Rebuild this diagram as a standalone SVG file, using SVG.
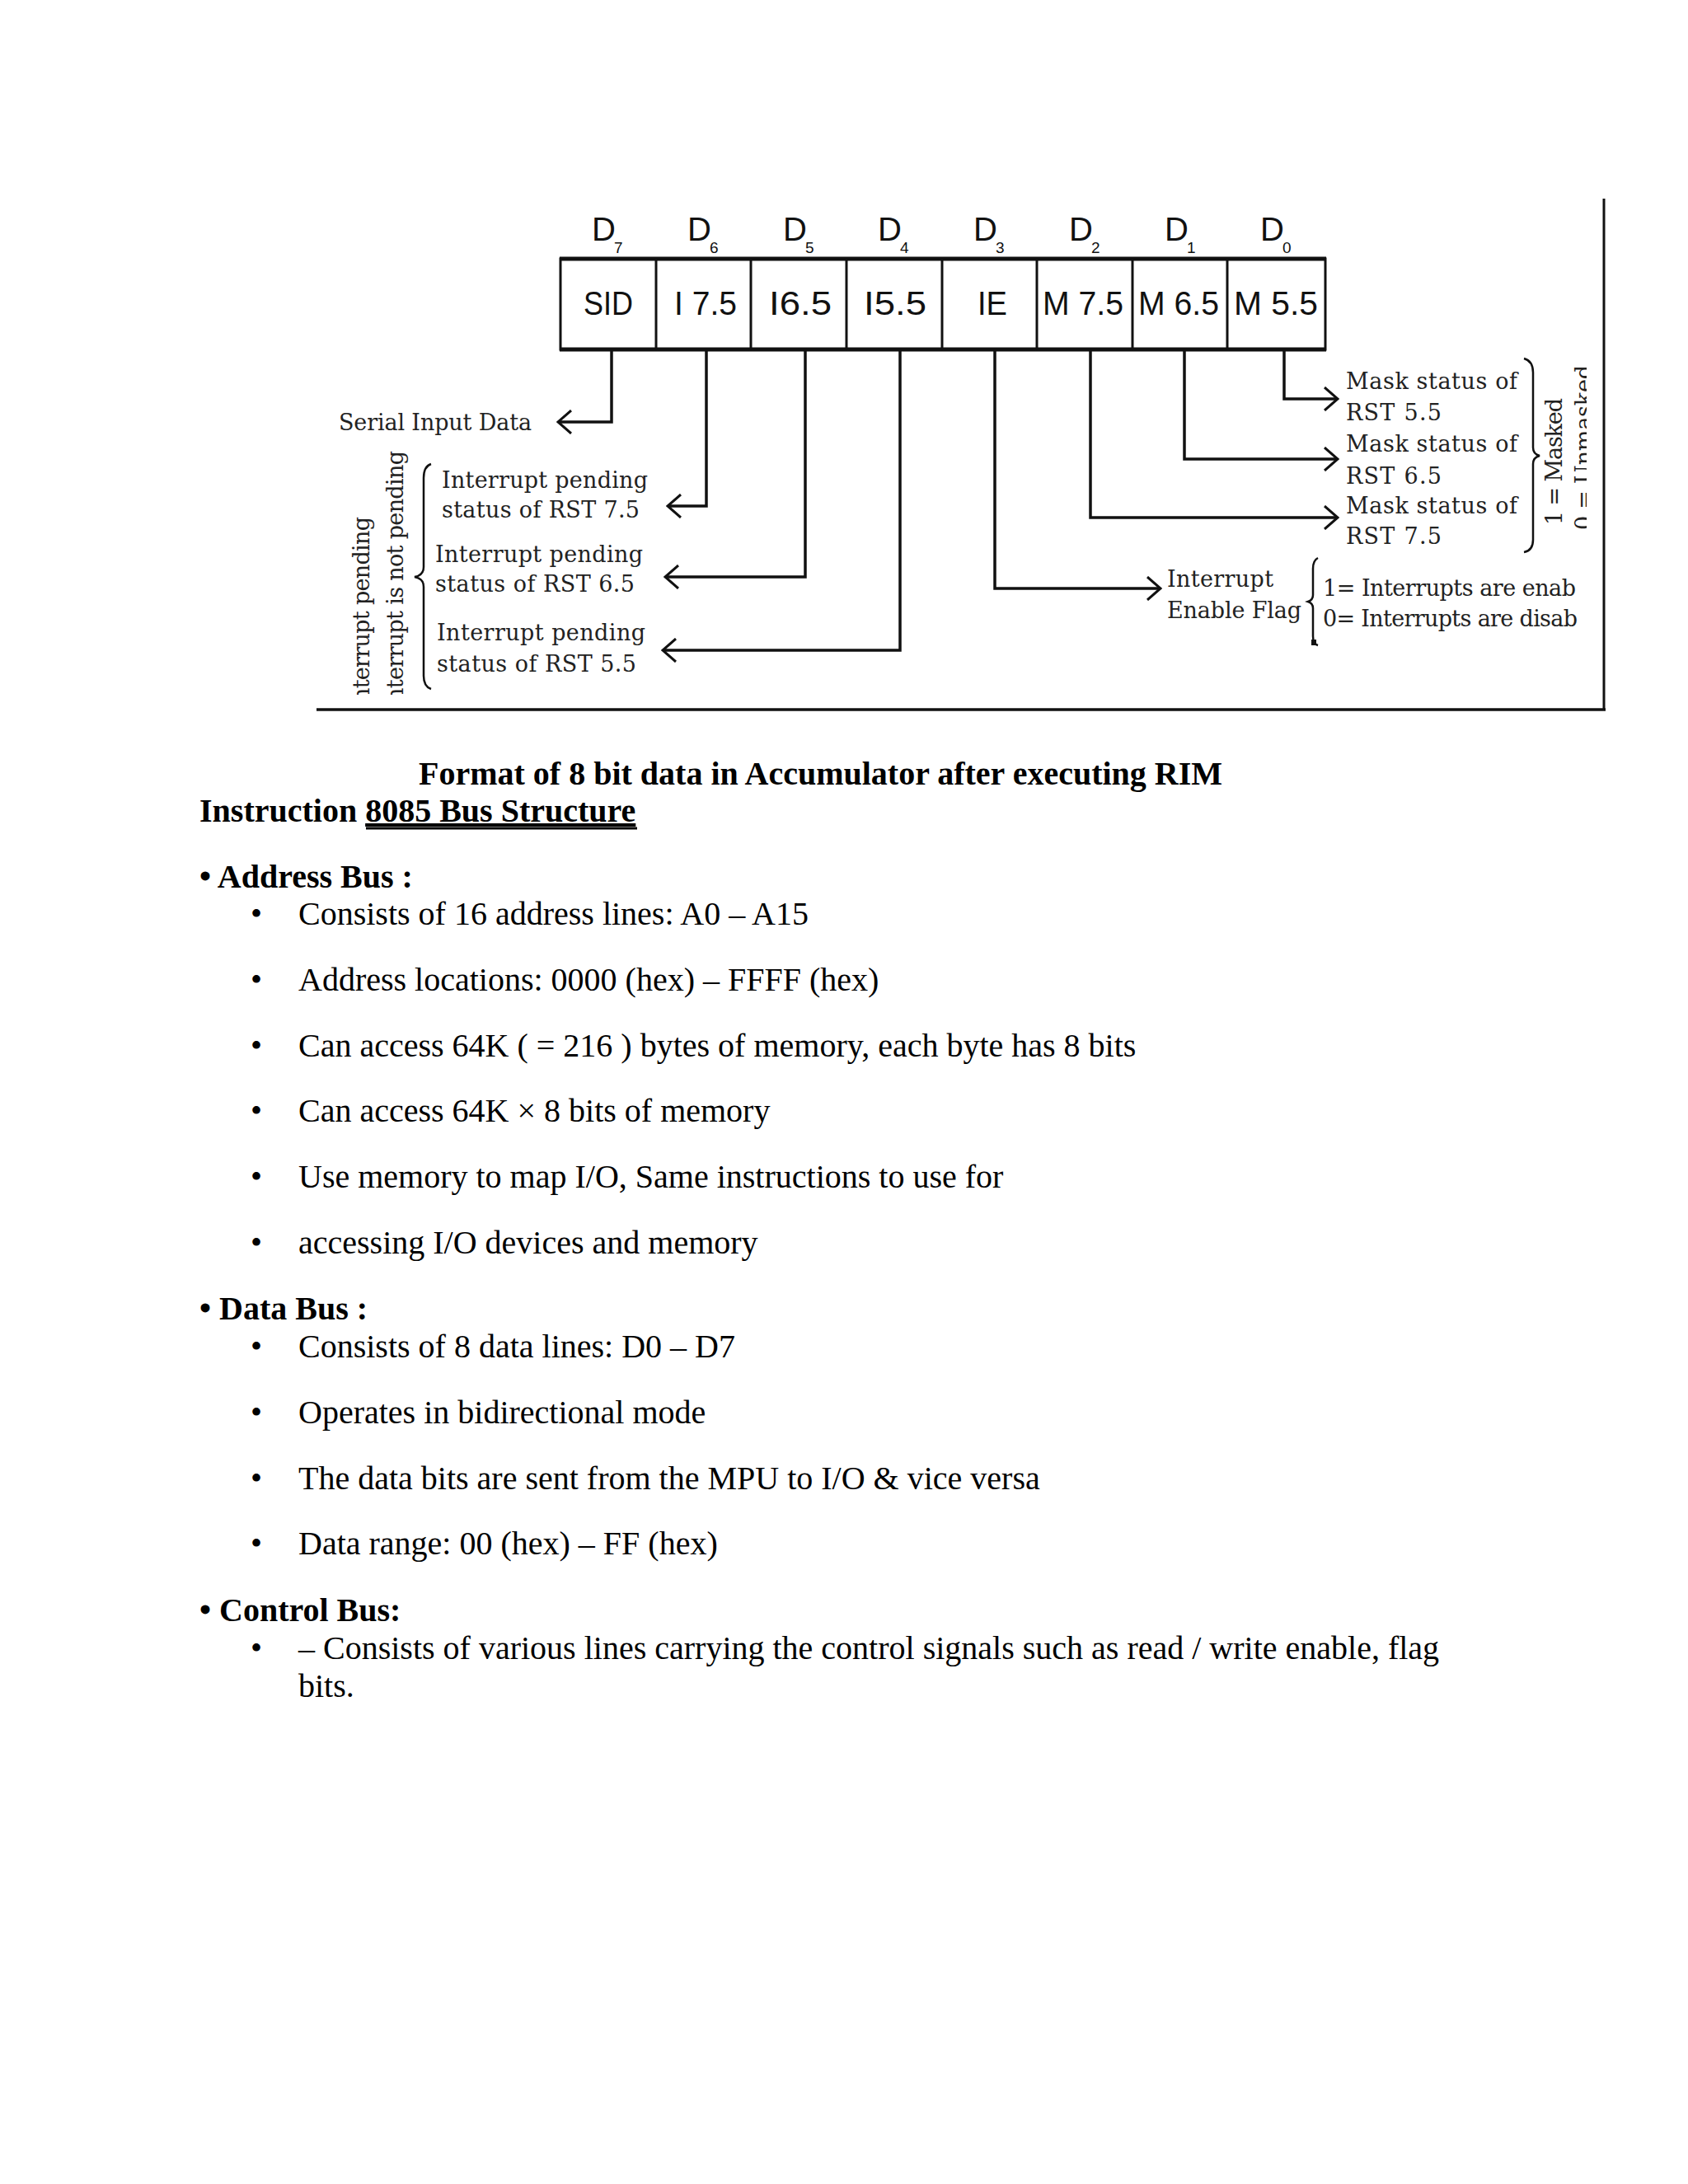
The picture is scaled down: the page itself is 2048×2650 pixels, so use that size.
<svg xmlns="http://www.w3.org/2000/svg" width="2048" height="2650" viewBox="0 0 2048 2650">
<style>
.cell{font-family:"Liberation Sans",Arial,sans-serif;font-size:40px;fill:#111;text-anchor:middle}
.dl{font-family:"Liberation Sans",Arial,sans-serif;font-size:40px;fill:#111}
.ds{font-family:"Liberation Sans",Arial,sans-serif;font-size:19px;fill:#111}
.lb{font-family:"DejaVu Serif","Liberation Serif",serif;font-size:27px;fill:#222}
.ln{fill:none;stroke:#111;stroke-width:3.5}
.br{fill:none;stroke:#111;stroke-width:2.5}
.t{font-family:"Liberation Serif","Times New Roman",serif;font-size:40px;fill:#000}
.b{font-family:"Liberation Serif","Times New Roman",serif;font-size:40px;font-weight:bold;fill:#000}
</style>
<defs>
<marker id="arr" viewBox="0 0 20 30" refX="18" refY="15" markerWidth="20" markerHeight="30" markerUnits="userSpaceOnUse" orient="auto">
<path d="M2,1 L18,15 L2,29" fill="none" stroke="#111" stroke-width="3"/>
</marker>
<clipPath id="clipL"><rect x="380" y="500" width="140" height="343"/></clipPath>
<clipPath id="clipR"><rect x="1860" y="400" width="65" height="300"/></clipPath>
</defs>
<rect width="2048" height="2650" fill="#fff"/>

<g id="frame">
<line x1="1946" y1="241" x2="1946" y2="862" stroke="#111" stroke-width="3"/>
<line x1="384" y1="861" x2="1948" y2="861" stroke="#111" stroke-width="3.5"/>
</g>

<g id="register">
<rect x="680" y="314" width="928" height="110" fill="#fff" stroke="#111" stroke-width="3"/>
<line x1="679" y1="314" x2="1609" y2="314" stroke="#111" stroke-width="5"/>
<line x1="679" y1="424" x2="1609" y2="424" stroke="#111" stroke-width="5"/>
<g stroke="#111" stroke-width="3">
<line x1="796" y1="314" x2="796" y2="424"/>
<line x1="911" y1="314" x2="911" y2="424"/>
<line x1="1027" y1="314" x2="1027" y2="424"/>
<line x1="1143" y1="314" x2="1143" y2="424"/>
<line x1="1258" y1="314" x2="1258" y2="424"/>
<line x1="1374" y1="314" x2="1374" y2="424"/>
<line x1="1489" y1="314" x2="1489" y2="424"/>
</g>
<g id="bit7"><text class="dl" x="718" y="292" textLength="29">D</text><text class="ds" x="745" y="307">7</text><text class="cell" x="738" y="382" textLength="60" lengthAdjust="spacingAndGlyphs">SID</text></g>
<g id="bit6"><text class="dl" x="834" y="292" textLength="29">D</text><text class="ds" x="861" y="307">6</text><text class="cell" x="856" y="382" textLength="76" lengthAdjust="spacingAndGlyphs">I 7.5</text></g>
<g id="bit5"><text class="dl" x="950" y="292" textLength="29">D</text><text class="ds" x="977" y="307">5</text><text class="cell" x="971" y="382" textLength="76" lengthAdjust="spacingAndGlyphs">I6.5</text></g>
<g id="bit4"><text class="dl" x="1065" y="292" textLength="29">D</text><text class="ds" x="1092" y="307">4</text><text class="cell" x="1086" y="382" textLength="76" lengthAdjust="spacingAndGlyphs">I5.5</text></g>
<g id="bit3"><text class="dl" x="1181" y="292" textLength="29">D</text><text class="ds" x="1208" y="307">3</text><text class="cell" x="1204" y="382" textLength="36" lengthAdjust="spacingAndGlyphs">IE</text></g>
<g id="bit2"><text class="dl" x="1297" y="292" textLength="29">D</text><text class="ds" x="1324" y="307">2</text><text class="cell" x="1314" y="382" textLength="98" lengthAdjust="spacingAndGlyphs">M 7.5</text></g>
<g id="bit1"><text class="dl" x="1413" y="292" textLength="29">D</text><text class="ds" x="1440" y="307">1</text><text class="cell" x="1430" y="382" textLength="98" lengthAdjust="spacingAndGlyphs">M 6.5</text></g>
<g id="bit0"><text class="dl" x="1529" y="292" textLength="29">D</text><text class="ds" x="1556" y="307">0</text><text class="cell" x="1548" y="382" textLength="102" lengthAdjust="spacingAndGlyphs">M 5.5</text></g>
</g>

<g id="connectors">
<path class="ln" d="M742,425 V512 H677" marker-end="url(#arr)"/>
<path class="ln" d="M857,425 V614 H810" marker-end="url(#arr)"/>
<path class="ln" d="M977,425 V700 H807" marker-end="url(#arr)"/>
<path class="ln" d="M1092,425 V789 H804" marker-end="url(#arr)"/>
<path class="ln" d="M1207,425 V714 H1408" marker-end="url(#arr)"/>
<path class="ln" d="M1323,425 V628 H1623" marker-end="url(#arr)"/>
<path class="ln" d="M1437,425 V557 H1623" marker-end="url(#arr)"/>
<path class="ln" d="M1558,425 V484 H1623" marker-end="url(#arr)"/>
</g>

<g id="sid-label"><text class="lb" x="411" y="522" textLength="234">Serial Input Data</text></g>

<g id="pending-labels">
<text class="lb" x="536" y="592" textLength="250">Interrupt pending</text>
<text class="lb" x="536" y="628" textLength="240">status of RST 7.5</text>
<text class="lb" x="528" y="682" textLength="252">Interrupt pending</text>
<text class="lb" x="528" y="718" textLength="242">status of RST 6.5</text>
<text class="lb" x="530" y="777" textLength="253">Interrupt pending</text>
<text class="lb" x="530" y="815" textLength="242">status of RST 5.5</text>
<path class="br" d="M523,563 Q514,566 514,580 L514,688 Q514,698 503,700 Q514,702 514,712 L514,820 Q514,833 523,836"/>
<g clip-path="url(#clipL)">
<text class="lb" transform="translate(448,852) rotate(-90)" x="0" y="0" textLength="225" font-size="28">nterrupt pending</text>
<text class="lb" transform="translate(489,852) rotate(-90)" x="0" y="0" textLength="305" font-size="28">nterrupt is not pending</text>
</g>
</g>

<g id="mask-labels">
<text class="lb" x="1633" y="472" textLength="208">Mask status of</text>
<text class="lb" x="1633" y="510" textLength="116">RST 5.5</text>
<text class="lb" x="1633" y="548" textLength="208">Mask status of</text>
<text class="lb" x="1633" y="587" textLength="116">RST 6.5</text>
<text class="lb" x="1633" y="623" textLength="208">Mask status of</text>
<text class="lb" x="1633" y="660" textLength="116">RST 7.5</text>
<path class="br" d="M1849,435 Q1860,438 1860,452 L1860,543 Q1860,551 1868,553 Q1860,555 1860,563 L1860,655 Q1860,668 1849,670"/>
<text class="lb" transform="translate(1895,637) rotate(-90)" x="0" y="0" textLength="154" font-size="29">1 = Masked</text>
<g clip-path="url(#clipR)">
<text class="lb" transform="translate(1931,643) rotate(-90)" x="0" y="0" textLength="200" font-size="29">0 = Unmasked</text>
</g>
</g>

<g id="ie-labels">
<text class="lb" x="1416" y="712" textLength="129">Interrupt</text>
<text class="lb" x="1416" y="750" textLength="163">Enable Flag</text>
<path class="br" d="M1599,677 Q1593,680 1593,690 L1593,722 Q1593,728 1587,730 Q1593,732 1593,738 L1593,772 Q1593,781 1599,783"/>
<rect x="1591" y="776" width="6" height="7" fill="#111"/>
<text class="lb" x="1605" y="723" textLength="307">1= Interrupts are enab</text>
<text class="lb" x="1605" y="760" textLength="309">0= Interrupts are disab</text>
</g>

<g id="caption">
<text class="b" x="508" y="952">Format of 8 bit data in Accumulator after executing RIM</text>
<text class="b" x="242" y="997">Instruction <tspan text-decoration="underline">8085 Bus Structure</tspan></text>
<line x1="444" y1="1005" x2="773" y2="1005" stroke="#000" stroke-width="3"/>
</g>

<g id="address-bus">
<text class="b" x="242" y="1077">• Address Bus :</text>
<g class="t">
<text x="304" y="1122">•</text><text x="362" y="1122">Consists of 16 address lines: A0 – A15</text>
<text x="304" y="1202">•</text><text x="362" y="1202">Address locations: 0000 (hex) – FFFF (hex)</text>
<text x="304" y="1282">•</text><text x="362" y="1282">Can access 64K ( = 216 ) bytes of memory, each byte has 8 bits</text>
<text x="304" y="1361">•</text><text x="362" y="1361">Can access 64K × 8 bits of memory</text>
<text x="304" y="1441">•</text><text x="362" y="1441">Use memory to map I/O, Same instructions to use for</text>
<text x="304" y="1521">•</text><text x="362" y="1521">accessing I/O devices and memory</text>
</g>
</g>

<g id="data-bus">
<text class="b" x="242" y="1601">• Data Bus :</text>
<g class="t">
<text x="304" y="1647">•</text><text x="362" y="1647">Consists of 8 data lines: D0 – D7</text>
<text x="304" y="1727">•</text><text x="362" y="1727">Operates in bidirectional mode</text>
<text x="304" y="1807">•</text><text x="362" y="1807">The data bits are sent from the MPU to I/O &amp; vice versa</text>
<text x="304" y="1886">•</text><text x="362" y="1886">Data range: 00 (hex) – FF (hex)</text>
</g>
</g>

<g id="control-bus">
<text class="b" x="242" y="1967">• Control Bus:</text>
<g class="t">
<text x="304" y="2013">•</text><text x="362" y="2013">– Consists of various lines carrying the control signals such as read / write enable, flag</text>
<text x="362" y="2059">bits.</text>
</g>
</g>
</svg>
